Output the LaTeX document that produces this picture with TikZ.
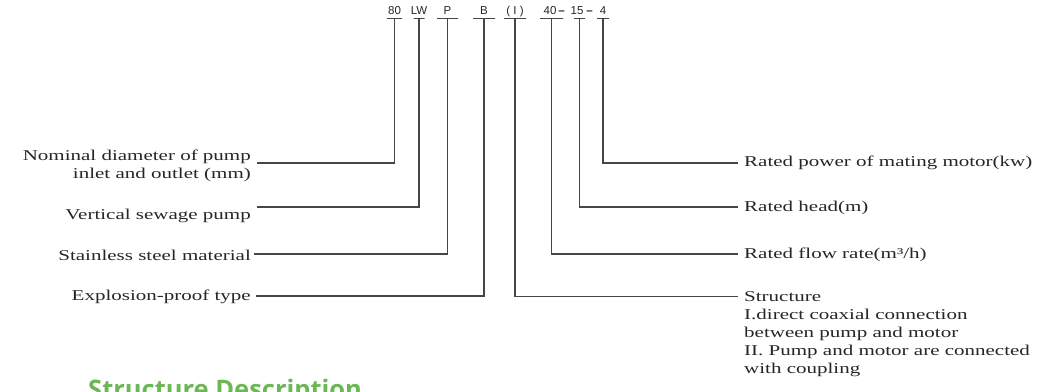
\documentclass[tikz,border=0pt]{standalone}
\usepackage{fontspec}
\usetikzlibrary{positioning}
\newfontfamily\lblfont{Liberation Serif}[FakeStretch=1.4]
\newfontfamily\codefont{Liberation Sans}
\newfontfamily\ttlfont{Open Sans}
\definecolor{ttlgreen}{RGB}{106,183,84}
\definecolor{leadgray}{RGB}{70,70,70}
\tikzset{
  lbl/.style={inner sep=0pt, text=black!85, font=\lblfont\fontsize{15}{18}\selectfont},
  code/.style={inner sep=0pt, text height=8.5pt, text depth=0pt, text=black!85, font=\codefont\fontsize{11.5}{13}\selectfont},
  tick/.style={draw=leadgray, line width=0.9pt, inner sep=0pt, minimum height=0pt},
  lead/.style={draw=leadgray, line width=1.1pt},
}
\begin{document}
\begin{tikzpicture}[x=1pt,y=-1pt]
  \clip (0,0) rectangle (1054,391);

  % ticks under the model code
  \node[tick, minimum width=15pt] at (394.5,18.5) (t80) {};
  \node[tick, minimum width=11pt] at (419,18.5)   (tLW) {};
  \node[tick, minimum width=21pt] at (447.5,18.5) (tP) {};
  \node[tick, minimum width=22pt] at (484,18.5)   (tB) {};
  \node[tick, minimum width=22pt] at (515,18.5)   (tI) {};
  \node[tick, minimum width=23pt] at (551.5,18.5) (t40) {};
  \node[tick, minimum width=11pt] at (579.5,18.5) (t15) {};
  \node[tick, minimum width=12pt] at (603,18.5)   (t4) {};

  % model code
  \node[code, above=3pt of t80] (c80) {80};
  \node[code, above=3pt of tLW] (cLW) {LW};
  \node[code, above=3pt of tP]  (cP)  {P};
  \node[code, above=3pt of tB]  (cB)  {B};
  \node[code, above=3pt of tI]  (cI)  {( I )};
  \node[code, above=3pt of t40, xshift=-1.5pt] (c40) {40};
  \node[code, right=1.5pt of c40] (d1) {\textbf{–}};
  \node[code, above=3pt of t15, xshift=-2.5pt] (c15) {15};
  \node[code, right=2.5pt of c15] (d2) {\textbf{–}};
  \node[code, above=3pt of t4]  (c4)  {4};

  % left labels
  \node[lbl, anchor=east, align=right] at (251,166) (dia) {Nominal diameter of pump\\inlet and outlet (mm)};
  \node[lbl, anchor=east] at (251,216) (vert) {Vertical sewage pump};
  \node[lbl, anchor=east] at (251,255) (ss)   {Stainless steel material};
  \node[lbl, anchor=east] at (251,297) (ex)   {Explosion-proof type};

  % right labels
  \node[lbl, anchor=west] at (744,163) (pow)  {Rated power of mating motor(kw)};
  \node[lbl, anchor=west] at (744,208) (head) {Rated head(m)};
  \node[lbl, anchor=west] at (744,255) (flow) {Rated flow rate(m³/h)};
  \node[lbl, anchor=north west, align=left] at (744,291) (struc)
    {Structure\\I.direct coaxial connection\\between pump and motor\\II. Pump and motor are connected\\with coupling};

  % leaders
  \draw[lead] (t80.south) |- ([xshift=6pt,yshift=3pt]dia.east);
  \draw[lead] (tLW.south) |- ([xshift=6pt,yshift=9pt]vert.east);
  \draw[lead] (tP.south)  |- ([xshift=3pt,yshift=1pt]ss.east);
  \draw[lead] (tB.south)  |- ([xshift=5pt,yshift=1pt]ex.east);
  \draw[lead] (tI.south)  |- ([xshift=-6pt,yshift=-5.5pt]struc.north west);
  \draw[lead] (t40.south) |- ([xshift=-6pt,yshift=1pt]flow.west);
  \draw[lead] (t15.south) |- ([xshift=-6pt,yshift=1pt]head.west);
  \draw[lead] (t4.south)  |- ([xshift=-6pt]pow.west);

  \node[anchor=north west, inner sep=0pt, text=ttlgreen, font=\ttlfont\bfseries\fontsize{25.5}{30}\selectfont]
    at (88,379) (ttl) {Structure Description};
\end{tikzpicture}
\end{document}
